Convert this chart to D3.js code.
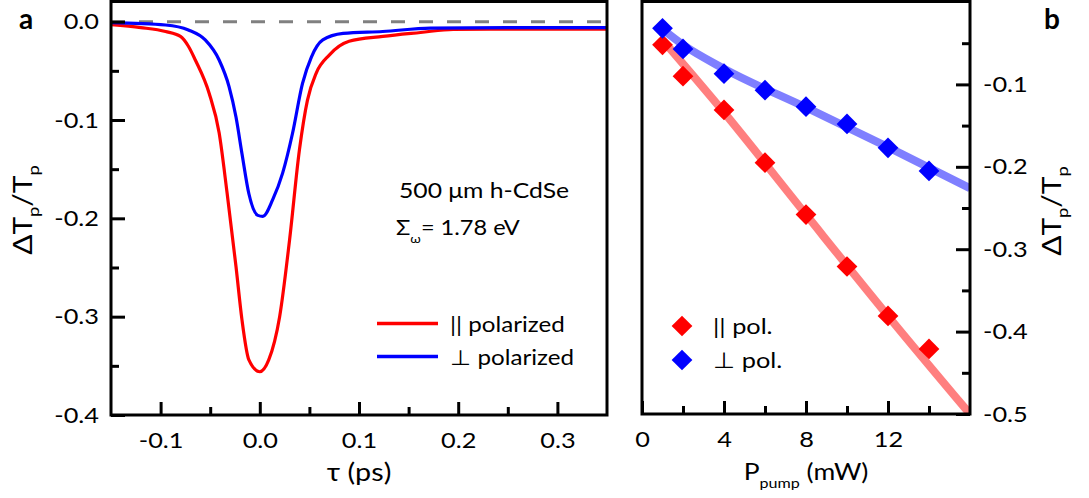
<!DOCTYPE html>
<html lang="en">
<head>
  <meta charset="UTF-8">
  <title>Transient transmission</title>
  <script src="https://d3js.org/d3.v7.min.js"></script>
  <style>
    body { margin: 0; overflow: hidden; background: #fff; }
    text { font-family: 'Lato', sans-serif; fill: #000; }
  </style>
</head>
<body>
<div id="chart"></div>
<script>
    // panel a: delay scans
    const tauRed = [-0.15, -0.12, -0.095, -0.08, -0.072, -0.065, -0.051, -0.041, -0.033, -0.024, -0.018, -0.011, 0.0,
        0.009, 0.02, 0.03, 0.04, 0.048, 0.057, 0.07, 0.09, 0.124, 0.162, 0.195, 0.25, 0.3, 0.35];
    const dtRed = [-0.003, -0.006, -0.010, -0.015, -0.025, -0.039, -0.073, -0.113, -0.174, -0.249, -0.303, -0.344, -0.356,
        -0.344, -0.300, -0.222, -0.130, -0.080, -0.052, -0.034, -0.020, -0.015, -0.011, -0.0078, -0.0075, -0.0075, -0.0075];
    const tauBlue = [-0.15, -0.095, -0.072, -0.055, -0.041, -0.031, -0.024, -0.018, -0.011, -0.002, 0.003,
        0.013, 0.023, 0.033, 0.043, 0.052, 0.0635, 0.084, 0.124, 0.172, 0.25, 0.35];
    const dtBlue = [-0.001, -0.0034, -0.0084, -0.0186, -0.039, -0.066, -0.097, -0.134, -0.175, -0.197, -0.198,
        -0.181, -0.154, -0.1135, -0.063, -0.036, -0.0186, -0.012, -0.010, -0.0065, -0.006, -0.006];

    // panel b: pump power dependence
    const power = [1, 2, 4, 6, 8, 10, 12, 14];
    const parPol = [-0.052, -0.090, -0.131, -0.195, -0.258, -0.321, -0.381, -0.421];
    const perpPol = [-0.032, -0.057, -0.087, -0.107, -0.127, -0.148, -0.177, -0.205];
    const fitPowerPar = [1, 4, 8, 12, 16.2];
    const fitPar = [-0.046, -0.134, -0.258, -0.381, -0.506];
    const fitPowerPerp = [1, 2, 4, 8, 12, 16];
    const fitPerp = [-0.033, -0.052, -0.081, -0.128, -0.176, -0.226];

    const tauTicks = [-0.1, 0.0, 0.1, 0.2, 0.3];
    const tauTickLabels = ["-0.1", "0.0", "0.1", "0.2", "0.3"];
    const tauMinor = [-0.05, 0.05, 0.15, 0.25];
    const dtTicksA = [0.0, -0.1, -0.2, -0.3, -0.4];
    const dtTickLabelsA = ["0.0", "-0.1", "-0.2", "-0.3", "-0.4"];
    const dtMinorA = [-0.05, -0.15, -0.25, -0.35];
    const powerTicks = [0, 4, 8, 12];
    const powerTickLabels = ["0", "4", "8", "12"];
    const powerMinor = [2, 6, 10, 14];
    const dtTicksB = [-0.1, -0.2, -0.3, -0.4, -0.5];
    const dtTickLabelsB = ["-0.1", "-0.2", "-0.3", "-0.4", "-0.5"];
    const dtMinorB = [-0.05, -0.15, -0.25, -0.35, -0.45];

    const W = 1089, H = 498;
    const S = 1.15; // the figure's font is wider than Lato
    const svg = d3.select("#chart").append("svg")
        .attr("width", W).attr("height", H);

    const xA = d3.scaleLinear().domain([-0.15, 0.35]).range([111, 607]);
    const yA = d3.scaleLinear().domain([-0.4, 0.02]).range([415, 2]);
    const xB = d3.scaleLinear().domain([0, 16]).range([642, 970]);
    const yB = d3.scaleLinear().domain([-0.5, 0]).range([414, 2]);

    const defs = svg.append("defs");
    defs.append("clipPath").attr("id", "clipA").append("rect")
        .attr("x", 111).attr("y", 2).attr("width", 496).attr("height", 413);
    defs.append("clipPath").attr("id", "clipB").append("rect")
        .attr("x", 642).attr("y", 2).attr("width", 328).attr("height", 412);

    // widen text horizontally around its anchor x
    function stretch(sel) {
        sel.each(function () {
            const t = d3.select(this);
            const x = +t.attr("x") || 0;
            t.attr("transform", `translate(${x * (1 - S)},0) scale(${S},1)`);
        });
    }

    function styleAxis(g) {
        g.select(".domain").remove();
        g.selectAll(".tick line").attr("stroke", "#000").attr("stroke-width", 3);
        g.selectAll(".tick text").style("font-size", "22px").attr("fill", "#000").call(stretch);
    }

    function addText(g, x, y, size, str) {
        return g.append("text").attr("x", x).attr("y", y)
            .style("font-size", size + "px").text(str).call(stretch);
    }

    // ---------- panel a ----------
    const gA = svg.append("g");
    gA.append("line")
        .attr("x1", xA(-0.15)).attr("x2", xA(0.35))
        .attr("y1", yA(0)).attr("y2", yA(0))
        .attr("stroke", "#808080").attr("stroke-width", 3)
        .attr("stroke-dasharray", "14,14");

    const lineA = d3.line().curve(d3.curveMonotoneX)
        .x(d => xA(d[0])).y(d => yA(d[1]));
    const curves = gA.append("g").attr("clip-path", "url(#clipA)");
    curves.append("path")
        .datum(d3.zip(tauRed, dtRed))
        .attr("d", lineA).attr("fill", "none")
        .attr("stroke", "#ff0000").attr("stroke-width", 3.2);
    curves.append("path")
        .datum(d3.zip(tauBlue, dtBlue))
        .attr("d", lineA).attr("fill", "none")
        .attr("stroke", "#0000ff").attr("stroke-width", 3.2);

    gA.append("g").attr("transform", `translate(0,${yA.range()[0]})`)
        .call(d3.axisBottom(xA).tickValues(tauTicks).tickSize(-13).tickPadding(17)
            .tickFormat((d, i) => tauTickLabels[i]))
        .call(styleAxis);
    gA.append("g").attr("transform", `translate(0,${yA.range()[0]})`)
        .call(d3.axisBottom(xA).tickValues(tauMinor).tickSize(-8).tickFormat(""))
        .call(styleAxis);
    gA.append("g").attr("transform", `translate(${xA.range()[0]},0)`)
        .call(d3.axisLeft(yA).tickValues(dtTicksA).tickSize(-14).tickPadding(12)
            .tickFormat((d, i) => dtTickLabelsA[i]))
        .call(styleAxis);
    gA.append("g").attr("transform", `translate(${xA.range()[0]},0)`)
        .call(d3.axisLeft(yA).tickValues(dtMinorA).tickSize(-8).tickFormat(""))
        .call(styleAxis);

    gA.append("rect")
        .attr("x", 111).attr("y", 1.5).attr("width", 496).attr("height", 413.5)
        .attr("fill", "none").attr("stroke", "#000").attr("stroke-width", 3);

    // annotation
    addText(gA, 399, 198, 21.5, "500 \u03bcm h-CdSe");
    const sig = gA.append("text").attr("x", 396).attr("y", 235).style("font-size", "20.5px");
    sig.append("tspan").text("\u03a3");
    sig.append("tspan").attr("dy", 8).style("font-size", "12px").text("\u03c9");
    sig.append("tspan").attr("dy", -8).text("= 1.78 eV");
    sig.call(stretch);

    // legend a
    const legA = [["#ff0000", "|| polarized"], ["#0000ff", "\u22a5 polarized"]];
    legA.forEach((d, i) => {
        const y = 323.5 + i * 33;
        gA.append("line").attr("x1", 377).attr("x2", 438).attr("y1", y).attr("y2", y)
            .attr("stroke", d[0]).attr("stroke-width", 3.5);
        addText(gA, 450, y + 9, 21, d[1]);
    });

    // axis titles a
    addText(gA, xA(0.1), 481, 25, "\u03c4 (ps)").attr("text-anchor", "middle");
    const labA = gA.append("text")
        .attr("transform", `translate(32,210) rotate(-90) scale(${S},1)`)
        .attr("text-anchor", "middle").style("font-size", "26px");
    labA.append("tspan").text("\u0394T");
    labA.append("tspan").attr("dy", 7).style("font-size", "16px").text("p");
    labA.append("tspan").attr("dy", -7).text("/T");
    labA.append("tspan").attr("dy", 7).style("font-size", "16px").text("p");

    svg.append("text").attr("x", 19).attr("y", 29)
        .style("font-size", "28px").style("font-weight", "bold").text("a");

    // ---------- panel b ----------
    const gB = svg.append("g");
    const lineB = d3.line().curve(d3.curveMonotoneX)
        .x(d => xB(d[0])).y(d => yB(d[1]));
    const fits = gB.append("g").attr("clip-path", "url(#clipB)");
    fits.append("path")
        .datum(d3.zip(fitPowerPerp, fitPerp))
        .attr("d", lineB).attr("fill", "none")
        .attr("stroke", "rgba(0,0,255,0.5)").attr("stroke-width", 8);
    fits.append("path")
        .datum(d3.zip(fitPowerPar, fitPar))
        .attr("d", lineB).attr("fill", "none")
        .attr("stroke", "rgba(255,0,0,0.5)").attr("stroke-width", 8);

    const diamond = d3.symbol().type(d3.symbolSquare).size(215);
    const pts = gB.append("g");
    pts.selectAll(".par").data(d3.zip(power, parPol)).enter()
        .append("path").attr("class", "par")
        .attr("d", diamond)
        .attr("transform", d => `translate(${xB(d[0])},${yB(d[1])}) rotate(45)`)
        .attr("fill", "#ff0000");
    pts.selectAll(".perp").data(d3.zip(power, perpPol)).enter()
        .append("path").attr("class", "perp")
        .attr("d", diamond)
        .attr("transform", d => `translate(${xB(d[0])},${yB(d[1])}) rotate(45)`)
        .attr("fill", "#0000ff");

    gB.append("g").attr("transform", `translate(0,${yB.range()[0]})`)
        .call(d3.axisBottom(xB).tickValues(powerTicks).tickSize(-13).tickPadding(17)
            .tickFormat((d, i) => powerTickLabels[i]))
        .call(styleAxis);
    gB.append("g").attr("transform", `translate(0,${yB.range()[0]})`)
        .call(d3.axisBottom(xB).tickValues(powerMinor).tickSize(-8).tickFormat(""))
        .call(styleAxis);
    gB.append("g").attr("transform", `translate(${xB.range()[1]},0)`)
        .call(d3.axisRight(yB).tickValues(dtTicksB).tickSize(-14).tickPadding(13)
            .tickFormat((d, i) => dtTickLabelsB[i]))
        .call(styleAxis);
    gB.append("g").attr("transform", `translate(${xB.range()[1]},0)`)
        .call(d3.axisRight(yB).tickValues(dtMinorB).tickSize(-8).tickFormat(""))
        .call(styleAxis);

    gB.append("rect")
        .attr("x", 642).attr("y", 1.5).attr("width", 328).attr("height", 412.5)
        .attr("fill", "none").attr("stroke", "#000").attr("stroke-width", 3);

    // legend b
    const legB = [["#ff0000", "|| pol."], ["#0000ff", "\u22a5 pol."]];
    legB.forEach((d, i) => {
        const y = 326 + i * 34;
        gB.append("path").attr("d", diamond)
            .attr("transform", `translate(682,${y}) rotate(45)`).attr("fill", d[0]);
        addText(gB, 713, y + 8, 22, d[1]);
    });

    // axis titles b
    const labPx = gB.append("text").attr("x", 806).attr("y", 480)
        .attr("text-anchor", "middle").style("font-size", "23px");
    labPx.append("tspan").text("P");
    labPx.append("tspan").attr("dy", 8).style("font-size", "14px").text("pump");
    labPx.append("tspan").attr("dy", -8).text(" (mW)");
    labPx.call(stretch);

    const labB = gB.append("text")
        .attr("transform", `translate(1061,211) rotate(-90) scale(${S},1)`)
        .attr("text-anchor", "middle").style("font-size", "26px");
    labB.append("tspan").text("\u0394T");
    labB.append("tspan").attr("dy", 7).style("font-size", "16px").text("p");
    labB.append("tspan").attr("dy", -7).text("/T");
    labB.append("tspan").attr("dy", 7).style("font-size", "16px").text("p");

    svg.append("text").attr("x", 1044).attr("y", 29)
        .style("font-size", "28px").style("font-weight", "bold").text("b");
</script>
</body>
</html>
